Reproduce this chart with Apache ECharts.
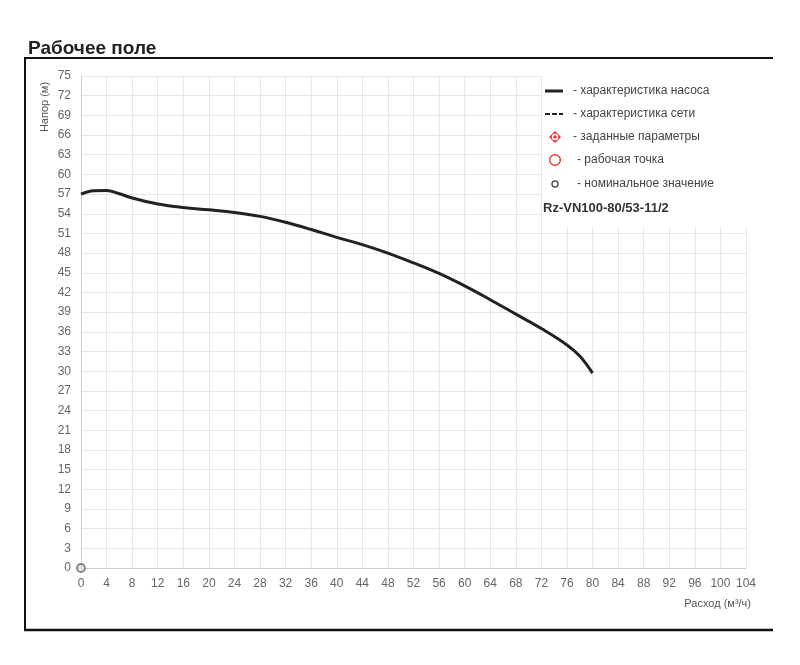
<!DOCTYPE html>
<html><head><meta charset="utf-8">
<script src="https://cdn.jsdelivr.net/npm/echarts@6/dist/echarts.min.js"></script>
<style>html,body{margin:0;padding:0;background:#fff}#c{width:800px;height:665px}</style>
</head><body><div id="c"></div>
<script>
const titleText = 'Рабочее поле';
const yName = 'Напор (м)';
const xName = 'Расход (м³/ч)';
const modelName = 'Rz-VN100-80/53-11/2';
const legendNames = ['- характеристика насоса','- характеристика сети','- заданные параметры','- рабочая точка','- номинальное значение'];
const flow = [0,2,4,6,8,12,16,20,24,28,32,36,40,44,48,52,56,60,64,68,72,76,78,80];
const head = [57.0,57.5,57.55,57.05,56.4,55.5,54.95,54.6,54.2,53.6,52.7,51.6,50.4,49.3,48.0,46.5,44.9,43.0,40.9,38.7,36.5,34.0,32.3,29.7];
const nominal = [[0,0]];
const xMin = 0, xMax = 104, xStep = 4;
const yMin = 0, yMax = 75, yStep = 3;

const font = 'Liberation Sans, Arial, sans-serif';
const chart = echarts.init(document.getElementById('c'));
const legY = [91,114,137,160,184];
chart.setOption({
  animation:false,
  textStyle:{fontFamily:font},
  title:{text:titleText,left:23,top:34,textStyle:{fontSize:19,fontWeight:'bold',color:'#222',fontFamily:font}},
  grid:{left:81,right:54,top:76,bottom:97},
  xAxis:{type:'value',min:xMin,max:xMax,interval:xStep,
    axisLine:{show:true,lineStyle:{color:'#d0d0d0'}},axisTick:{show:false},
    axisLabel:{color:'#666',fontSize:12,margin:10,fontFamily:font},
    splitLine:{show:true,lineStyle:{color:'#e6e6e6'}}},
  yAxis:{type:'value',min:yMin,max:yMax,interval:yStep,
    axisLine:{show:true,lineStyle:{color:'#d0d0d0'}},axisTick:{show:false},
    axisLabel:{color:'#666',fontSize:12,margin:10,fontFamily:font},
    splitLine:{show:true,lineStyle:{color:'#e6e6e6'}}},
  series:[
    {name:legendNames[0],type:'line',smooth:0.4,symbol:'none',z:3,
     lineStyle:{color:'#222',width:3},data:flow.map((f,i)=>[f,head[i]])},
    {name:legendNames[4],type:'scatter',symbol:'circle',symbolSize:8,z:4,
     itemStyle:{color:'#ddd',borderColor:'#666',borderWidth:1.8},data:nominal}
  ],
  graphic:[
    {type:'line',shape:{x1:25,y1:58,x2:773,y2:58},style:{stroke:'#111',lineWidth:2}},
    {type:'line',shape:{x1:25,y1:57,x2:25,y2:631},style:{stroke:'#111',lineWidth:2}},
    {type:'line',shape:{x1:24,y1:630,x2:773,y2:630},style:{stroke:'#111',lineWidth:2.5}},
    {type:'rect',z:5,shape:{x:542,y:62,width:230,height:166},style:{fill:'#fff'}},
    {type:'text',z:6,x:45,y:107,rotation:Math.PI/2,style:{text:yName,fill:'#555',font:'11px '+font,textAlign:'center',textVerticalAlign:'middle'}},
    {type:'text',z:6,x:751,y:604,style:{text:xName,fill:'#555',font:'11px '+font,textAlign:'right',textVerticalAlign:'middle'}},
    {type:'line',z:6,shape:{x1:545,y1:legY[0],x2:563,y2:legY[0]},style:{stroke:'#222',lineWidth:3}},
    {type:'line',z:6,shape:{x1:545,y1:legY[1],x2:563,y2:legY[1]},style:{stroke:'#222',lineWidth:2,lineDash:[5,2]}},
    {type:'polygon',z:6,shape:{points:[[555,legY[2]-6],[561,legY[2]],[555,legY[2]+6],[549,legY[2]]]},style:{fill:'#e53935'}},
    {type:'circle',z:7,shape:{cx:555,cy:legY[2],r:3.2},style:{fill:'#fff'}},
    {type:'circle',z:8,shape:{cx:555,cy:legY[2],r:1.8},style:{fill:'#e53935'}},
    {type:'circle',z:6,shape:{cx:555,cy:legY[3],r:5.3},style:{fill:'none',stroke:'#e53935',lineWidth:1.4}},
    {type:'circle',z:6,shape:{cx:555,cy:legY[4],r:3},style:{fill:'none',stroke:'#555',lineWidth:1.5}},
    {type:'text',z:6,x:573,y:legY[0],style:{text:legendNames[0],fill:'#444',font:'12px '+font,textVerticalAlign:'middle'}},
    {type:'text',z:6,x:573,y:legY[1],style:{text:legendNames[1],fill:'#444',font:'12px '+font,textVerticalAlign:'middle'}},
    {type:'text',z:6,x:573,y:legY[2],style:{text:legendNames[2],fill:'#444',font:'12px '+font,textVerticalAlign:'middle'}},
    {type:'text',z:6,x:577,y:legY[3],style:{text:legendNames[3],fill:'#444',font:'12px '+font,textVerticalAlign:'middle'}},
    {type:'text',z:6,x:577,y:legY[4],style:{text:legendNames[4],fill:'#444',font:'12px '+font,textVerticalAlign:'middle'}},
    {type:'text',z:6,x:543,y:208,style:{text:modelName,fill:'#333',font:'bold 13px '+font,textVerticalAlign:'middle'}}
  ]
});
</script></body></html>
